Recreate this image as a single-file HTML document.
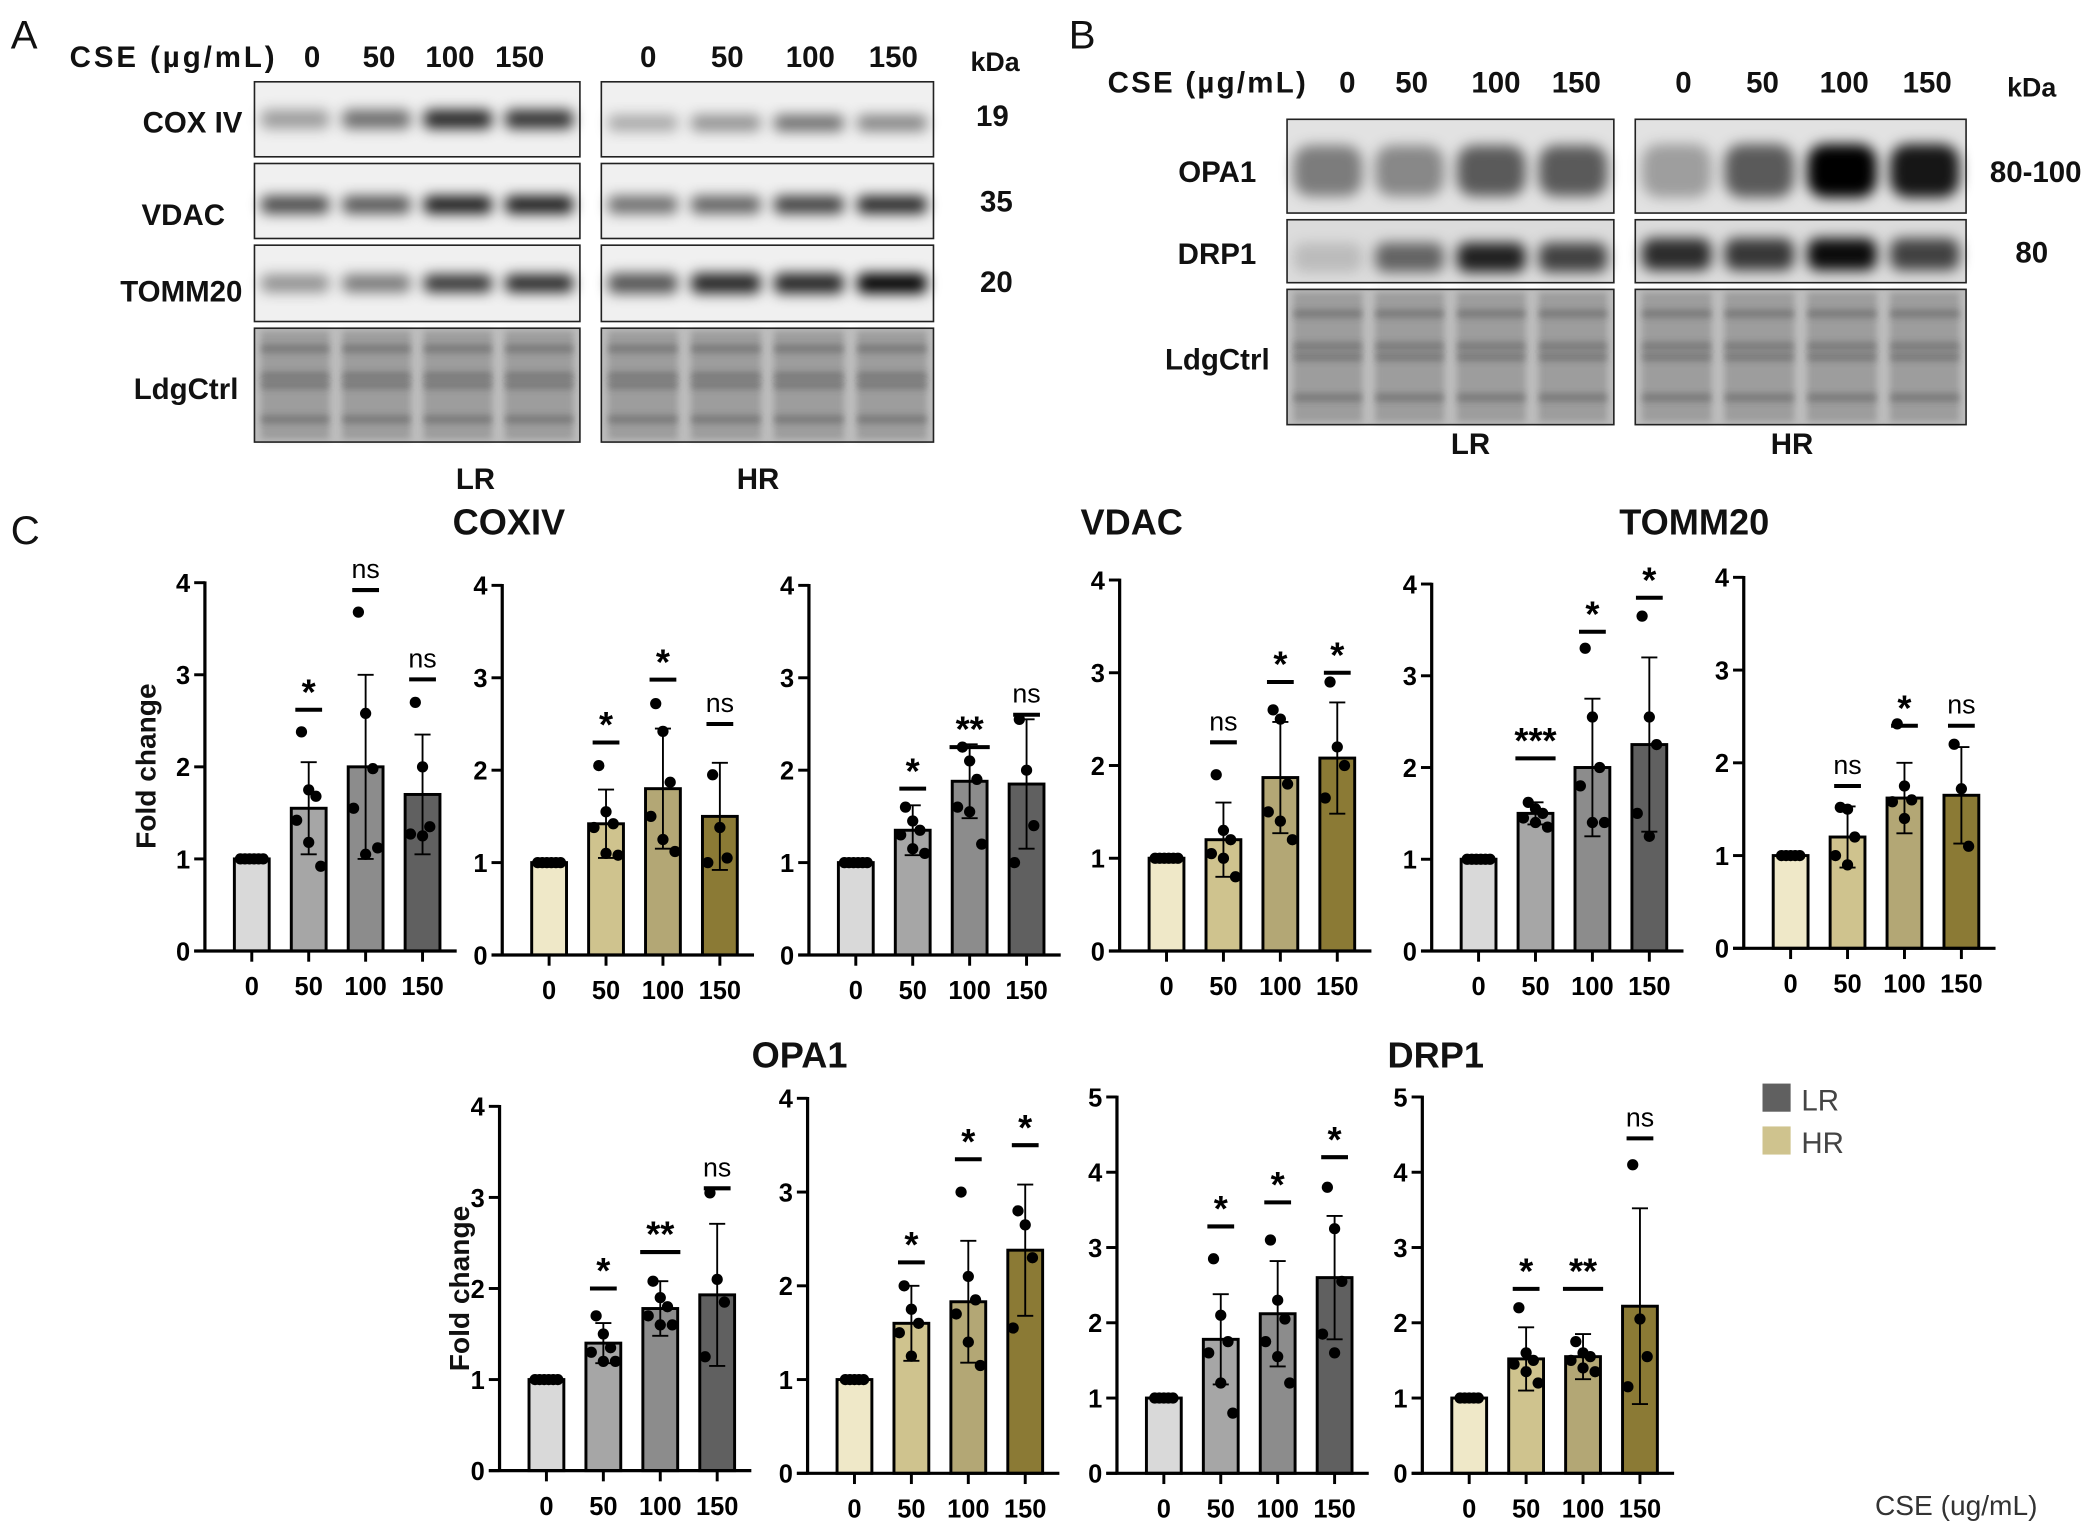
<!DOCTYPE html>
<html><head><meta charset="utf-8"><style>
html,body{margin:0;padding:0;background:#fff}
svg{display:block;font-family:"Liberation Sans",Arial,sans-serif}
</style></head><body>
<svg id="fig" xmlns="http://www.w3.org/2000/svg" width="2100" height="1531" viewBox="0 0 1568 1143">
<defs>
<filter id="blur" x="-50%" y="-80%" width="200%" height="260%"><feGaussianBlur stdDeviation="5"/></filter>
<filter id="blur2" x="-20%" y="-80%" width="140%" height="260%"><feGaussianBlur stdDeviation="2.5"/></filter>
</defs>
<g id="blots"></g>
<g id="texts" font-weight="bold" fill="#111">
<text x="8" y="36" font-size="30" font-weight="normal">A</text>
<text x="52" y="50" font-size="22" textLength="153">CSE (µg/mL)</text>
<text x="233" y="50" font-size="22" text-anchor="middle">0</text><text x="283" y="50" font-size="22" text-anchor="middle">50</text><text x="336" y="50" font-size="22" text-anchor="middle">100</text><text x="388" y="50" font-size="22" text-anchor="middle">150</text>
<text x="484" y="50" font-size="22" text-anchor="middle">0</text><text x="543" y="50" font-size="22" text-anchor="middle">50</text><text x="605" y="50" font-size="22" text-anchor="middle">100</text><text x="667" y="50" font-size="22" text-anchor="middle">150</text>
<text x="743" y="53" font-size="20" text-anchor="middle">kDa</text>
<text x="181" y="99" font-size="22" text-anchor="end">COX IV</text>
<text x="168" y="168" font-size="22" text-anchor="end">VDAC</text>
<text x="181" y="225" font-size="22" text-anchor="end">TOMM20</text>
<text x="178" y="298" font-size="22" text-anchor="end">LdgCtrl</text>
<text x="741" y="94" font-size="22" text-anchor="middle">19</text>
<text x="744" y="158" font-size="22" text-anchor="middle">35</text>
<text x="744" y="218" font-size="22" text-anchor="middle">20</text>
<text x="355" y="365" font-size="22" text-anchor="middle">LR</text>
<text x="566" y="365" font-size="22" text-anchor="middle">HR</text>
<text x="798" y="36" font-size="30" font-weight="normal">B</text>
<text x="827" y="69" font-size="22" textLength="148">CSE (µg/mL)</text>
<text x="1006" y="69" font-size="22" text-anchor="middle">0</text><text x="1054" y="69" font-size="22" text-anchor="middle">50</text><text x="1117" y="69" font-size="22" text-anchor="middle">100</text><text x="1177" y="69" font-size="22" text-anchor="middle">150</text>
<text x="1257" y="69" font-size="22" text-anchor="middle">0</text><text x="1316" y="69" font-size="22" text-anchor="middle">50</text><text x="1377" y="69" font-size="22" text-anchor="middle">100</text><text x="1439" y="69" font-size="22" text-anchor="middle">150</text>
<text x="1517" y="72" font-size="20" text-anchor="middle">kDa</text>
<text x="938" y="136" font-size="22" text-anchor="end">OPA1</text>
<text x="938" y="197" font-size="22" text-anchor="end">DRP1</text>
<text x="948" y="276" font-size="22" text-anchor="end">LdgCtrl</text>
<text x="1520" y="136" font-size="22" text-anchor="middle">80-100</text>
<text x="1517" y="196" font-size="22" text-anchor="middle">80</text>
<text x="1098" y="339" font-size="22" text-anchor="middle">LR</text>
<text x="1338" y="339" font-size="22" text-anchor="middle">HR</text>
<text x="8" y="406" font-size="30" font-weight="normal">C</text>
<text x="380" y="399" font-size="27" text-anchor="middle">COXIV</text>
<text x="845" y="399" font-size="27" text-anchor="middle">VDAC</text>
<text x="1265" y="399" font-size="27" text-anchor="middle">TOMM20</text>
<text x="597" y="797" font-size="27" text-anchor="middle">OPA1</text>
<text x="1072" y="797" font-size="27" text-anchor="middle">DRP1</text>
<text transform="translate(116,572) rotate(-90)" font-size="21" text-anchor="middle">Fold change</text>
<text transform="translate(350,962) rotate(-90)" font-size="21" text-anchor="middle">Fold change</text>
<rect x="1316" y="809" width="21" height="21" fill="#606060"/>
<text x="1345" y="829" font-size="22" font-weight="normal" fill="#444">LR</text>
<rect x="1316" y="841" width="21" height="21" fill="#cfc38e"/>
<text x="1345" y="861" font-size="22" font-weight="normal" fill="#444">HR</text>
<text x="1400" y="1131" font-size="21" font-weight="normal" fill="#333">CSE (ug/mL)</text>
</g>
<g id="charts"></g>
</svg>
<script>
const NS="http://www.w3.org/2000/svg";
const cats=["0","50","100","150"];
const lrColors=["#d9d9d9","#a6a6a6","#8c8c8c","#606060"];
const hrColors=["#efe8c8","#cfc38e","#b3a775","#8b7a35"];
// chart data
const names=["coxiv-lr","coxiv-hr","vdac-lr","vdac-hr","tomm20-lr","tomm20-hr","opa1-lr","opa1-hr","drp1-lr","drp1-hr"];
const yMax=[4,4,4,4,4,4,4,4,5,5];
const means=[[1,1.55,2.0,1.7],[1,1.42,1.8,1.5],[1,1.35,1.88,1.85],[1,1.2,1.87,2.08],[1,1.5,2.0,2.25],[1,1.2,1.62,1.65],[1,1.4,1.78,1.93],[1,1.6,1.83,2.38],[1,1.78,2.12,2.6],[1,1.52,1.55,2.22]];
const sds=[[0,0.5,1.0,0.65],[0,0.37,0.65,0.58],[0,0.27,0.4,0.7],[0,0.4,0.6,0.6],[0,0.12,0.75,0.95],[0,0.33,0.38,0.52],[0,0.22,0.3,0.78],[0,0.4,0.65,0.7],[0,0.6,0.7,0.82],[0,0.42,0.3,1.3]];
const pts=[
[[1,1,1,1,1,1],[2.38,1.75,1.68,1.42,1.18,0.92],[3.68,2.58,1.98,1.55,1.05,1.12],[2.7,2.0,1.35,1.27,1.25]],
[[1,1,1,1,1,1],[2.05,1.55,1.42,1.38,1.1,1.08],[2.72,2.42,1.87,1.5,1.25,1.12],[1.95,1.38,1.05,1.0]],
[[1,1,1,1,1,1],[1.6,1.45,1.35,1.3,1.15,1.1],[2.25,2.1,1.9,1.6,1.55,1.2],[2.55,2.0,1.4,1.0]],
[[1,1,1,1,1,1],[1.9,1.3,1.2,1.05,1.0,0.8],[2.6,2.5,1.8,1.5,1.4,1.2],[2.9,2.2,2.0,1.65]],
[[1,1,1,1,1,1],[1.62,1.55,1.5,1.45,1.4,1.35],[3.3,2.55,2.0,1.8,1.4,1.4],[3.65,2.55,2.25,1.5,1.25]],
[[1,1,1,1,1],[1.52,1.5,1.2,1.0,0.9],[2.42,1.75,1.6,1.58,1.4],[2.2,1.72,1.1]],
[[1,1,1,1,1,1],[1.7,1.5,1.35,1.3,1.2,1.2],[2.08,1.9,1.8,1.7,1.6,1.6],[3.05,2.1,1.85,1.25]],
[[1,1,1,1,1],[2.0,1.75,1.6,1.5,1.25],[3.0,2.1,1.85,1.7,1.4,1.15],[2.8,2.65,2.3,1.55]],
[[1,1,1,1,1],[2.85,2.1,1.75,1.6,1.2,0.8],[3.1,2.3,2.05,1.75,1.55,1.2],[3.8,3.25,2.55,1.85,1.6]],
[[1,1,1,1,1],[2.2,1.6,1.5,1.45,1.35,1.2],[1.75,1.6,1.55,1.5,1.4,1.35],[4.1,2.05,1.55,1.15]]];
const sigLabels=[["*","ns","ns"],["*","*","ns"],["*","**","ns"],["ns","*","*"],["***","*","*"],["ns","*","ns"],["*","**","ns"],["*","*","*"],["*","*","*"],["*","**","ns"]];
const sigLevels=[[2.62,3.92,2.95],[2.3,2.98,2.5],[1.8,2.25,2.6],[2.25,2.9,3.0],[2.1,3.48,3.85],[1.75,2.4,2.4],[2.0,2.4,3.1],[2.25,3.35,3.5],[3.28,3.6,4.2],[2.45,2.45,4.45]];
// layout (not data)
const axX=[153,375,604,836,1069,1302,373,603,834,1062];
const y0=[710,713,713,710,710,708,1098,1100,1100,1100];
const yTop=[435,437,437,433,436,431,826,820,819,819];
const hr=[0,1,0,1,0,1,0,1,0,1];

function el(tag,attrs,parent){const e=document.createElementNS(NS,tag);for(const k in attrs)e.setAttribute(k,attrs[k]);parent.appendChild(e);return e;}
const C=document.getElementById('charts');
names.forEach((nm,c)=>{
  const g=el('g',{},C);
  
  
  const ys=v=>y0[c]-(y0[c]-yTop[c])*v/yMax[c];
  const xs=i=>axX[c]+35+i*42.5;
  const cols=hr[c]?hrColors:lrColors;
  for(let i=0;i<4;i++){
    const b=el('rect',{x:xs(i)-13,y:ys(means[c][i]),width:26,height:y0[c]-ys(means[c][i]),fill:cols[i],stroke:'#000','stroke-width':2.2},g);
    
    
  }
  for(let i=1;i<4;i++){
    const hi=ys(means[c][i]+sds[c][i]),lo=ys(means[c][i]-sds[c][i]),x=xs(i);
    el('line',{x1:x,x2:x,y1:hi,y2:lo,stroke:'#000','stroke-width':1.4},g);
    el('line',{x1:x-6,x2:x+6,y1:hi,y2:hi,stroke:'#000','stroke-width':1.4},g);
    el('line',{x1:x-6,x2:x+6,y1:lo,y2:lo,stroke:'#000','stroke-width':1.4},g);
  }
  for(let i=0;i<4;i++){
    const p=pts[c][i];
    p.forEach((v,j)=>{
      let dx=i===0?(j-(p.length-1)/2)*3.4:((j%3)-1)*9*((j%2)?1:0.6);
      const d=el('circle',{cx:xs(i)+dx,cy:ys(v),r:4.2,fill:'#000'},g);
      
      
    });
  }
  for(let i=1;i<4;i++){
    const y=ys(sigLevels[c][i-1]),x=xs(i),lab=sigLabels[c][i-1];
    const w=lab.length>1&&lab!=="ns"?15:10;
    el('line',{x1:x-w,x2:x+w,y1:y,y2:y,stroke:'#000','stroke-width':3},g);
    const t=el('text',{x:x,y:lab==='ns'?y-9:y-4,'text-anchor':'middle','font-size':lab==='ns'?20:27,'font-weight':lab==='ns'?'normal':'bold'},g);
    t.textContent=lab;
    
    
  }
  const ax=el('g',{},g);
  
  
  el('line',{x1:axX[c],x2:axX[c],y1:yTop[c]-1,y2:y0[c]+1,stroke:'#000','stroke-width':2.4},ax);
  el('line',{x1:axX[c]-8,x2:axX[c]+188,y1:y0[c],y2:y0[c],stroke:'#000','stroke-width':2.4},ax);
  for(let v=0;v<=yMax[c];v++){
    el('line',{x1:axX[c]-8,x2:axX[c],y1:ys(v),y2:ys(v),stroke:'#000','stroke-width':2.2},ax);
    const t=el('text',{x:axX[c]-11,y:ys(v)+7,'text-anchor':'end','font-size':19,'font-weight':'bold'},ax);
    t.textContent=v;
  }
  for(let i=0;i<4;i++){
    el('line',{x1:xs(i),x2:xs(i),y1:y0[c],y2:y0[c]+8,stroke:'#000','stroke-width':2.2},ax);
    const t=el('text',{x:xs(i),y:y0[c]+33,'text-anchor':'middle','font-size':19,'font-weight':'bold'},ax);
    t.textContent=cats[i];
  }
});

const B=document.getElementById('blots');
function blot(name,x,y,w,h,lanes,bands,bg){
  const g=el('g',{},B);
  
  
  el('rect',{x:x,y:y,width:w,height:h,fill:bg},g);
  const lw=w/4;
  for(let i=0;i<4;i++){
    bands.forEach(b=>{
      const dark=b.d[i];
      el('rect',{x:x+lw*i+lw*0.08,y:y+h*b.y-b.h/2,width:lw*0.84,height:b.h,rx:b.h/3,fill:'#000','fill-opacity':dark,filter:b.f||'url(#blur)'},g);
    });
  }
  el('rect',{x:x,y:y,width:w,height:h,fill:'none',stroke:'#222','stroke-width':1.2},g);
}
function ldg(name,x,y,w,h){
  const g=el('g',{},B);
  
  
  el('rect',{x:x,y:y,width:w,height:h,fill:'#bdbdbd'},g);
  const lw=w/4;
  for(let i=0;i<4;i++){
    el('rect',{x:x+lw*i+lw*0.08,y:y+2,width:lw*0.84,height:h-4,fill:'#7e7e7e','fill-opacity':0.5,filter:'url(#blur2)'},g);
    [0.18,0.42,0.5,0.8].forEach(f=>el('rect',{x:x+lw*i+lw*0.08,y:y+h*f-3,width:lw*0.84,height:6,fill:'#444','fill-opacity':0.4,filter:'url(#blur2)'},g));
  }
  el('rect',{x:x,y:y,width:w,height:h,fill:'none',stroke:'#222','stroke-width':1.2},g);
}
blot('cox-iv-lr',190,61,243,56,4,[{y:0.5,h:14,d:[0.35,0.55,0.85,0.8]}],'#f0f0f0');
blot('cox-iv-hr',449,61,248,56,4,[{y:0.55,h:12,d:[0.3,0.4,0.55,0.45]}],'#f0f0f0');
blot('vdac-lr',190,122,243,56,4,[{y:0.55,h:13,d:[0.7,0.65,0.9,0.9]}],'#f0f0f0');
blot('vdac-hr',449,122,248,56,4,[{y:0.55,h:13,d:[0.55,0.6,0.75,0.85]}],'#f0f0f0');
blot('tomm20-lr',190,183,243,57,4,[{y:0.5,h:13,d:[0.4,0.5,0.8,0.85]}],'#f0f0f0');
blot('tomm20-hr',449,183,248,57,4,[{y:0.5,h:15,d:[0.65,0.85,0.85,1]}],'#f0f0f0');
ldg('ldgctrl-a-lr',190,245,243,85);
ldg('ldgctrl-a-hr',449,245,248,85);
blot('opa1-lr',961,89,244,70,4,[{y:0.55,h:38,d:[0.45,0.4,0.6,0.6]}],'#e2e2e2');
blot('opa1-hr',1221,89,247,70,4,[{y:0.55,h:40,d:[0.3,0.6,1,0.9]}],'#e2e2e2');
blot('drp1-lr',961,164,244,47,4,[{y:0.6,h:22,d:[0.15,0.55,0.85,0.7]}],'#dcdcdc');
blot('drp1-hr',1221,164,247,47,4,[{y:0.55,h:24,d:[0.8,0.75,0.95,0.7]}],'#dcdcdc');
ldg('ldgctrl-b-lr',961,216,244,101);
ldg('ldgctrl-b-hr',1221,216,247,101);
</script>
</body></html>
